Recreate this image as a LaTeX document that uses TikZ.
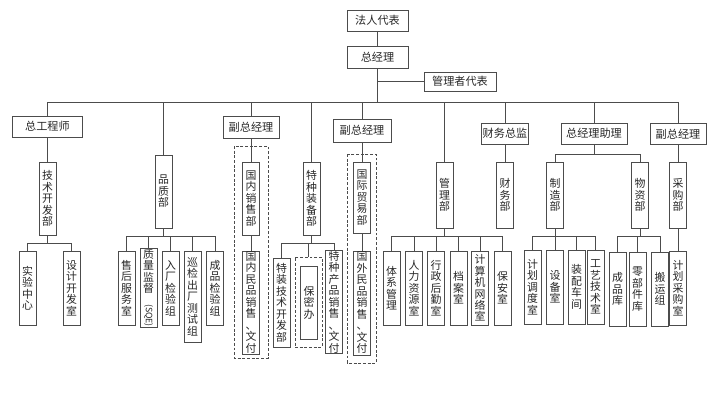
\documentclass[tikz,border=0pt]{standalone}
\usepackage{fontspec}
\usepackage{graphicx}
\newfontfamily\cjk{Noto Sans CJK SC}
\begin{document}
\begin{tikzpicture}[
  x=0.03cm, y=-0.03cm,
  box/.style={draw=black!70, line width=0.7pt, inner sep=1pt, text=black!85},
  hbox/.style={box, font=\cjk\fontsize{9.5}{11}\selectfont},
  vbox/.style={box, align=center, inner sep=0.5pt, minimum width=0.51cm, font=\cjk\fontsize{9.3}{9.8}\selectfont},
  wd/.style={minimum width=#1*0.03cm},
  ht/.style={minimum height=#1*0.03cm},
  grp/.style={draw=black!70, line width=0.7pt, dash pattern=on 2.5pt off 1.5pt},
  ln/.style={draw=black!70, line width=0.7pt}
]
\useasboundingbox (0,0) rectangle (720,406);

\node[hbox, wd=61, ht=21] (frdb) at (377.5,20.5) {法人代表};
\node[hbox, wd=61, ht=22] (zjl) at (377.5,57) {总经理};
\node[hbox, wd=72, ht=19] (glzdb) at (460,81.5) {管理者代表};

\node[hbox, wd=70, ht=21] (zgcs) at (47.5,126.5) {总工程师};
\node[hbox, wd=56, ht=22] (fzjl1) at (251,127) {副总经理};
\node[hbox, wd=58, ht=23] (fzjl2) at (362,130.5) {副总经理};
\node[hbox, wd=44, ht=21] (cwzj) at (505,133.5) {财务总监};
\node[hbox, wd=66, ht=21] (zjlzl) at (594,133.5) {总经理助理};
\node[hbox, wd=56, ht=21] (fzjl3) at (678,134) {副总经理};

\node[vbox, ht=73] (jskfb) at (47.5,198.5) {技\\术\\开\\发\\部};
\node[vbox, ht=73] (pzb) at (163.5,191.5) {品\\质\\部};
\node[vbox, ht=73] (gnxsb) at (251,198.5) {国\\内\\销\\售\\部};
\node[vbox, ht=73] (tzzbb) at (311.5,198.5) {特\\种\\装\\备\\部};
\node[vbox, ht=71] (gjmyb) at (362,197.5) {国\\际\\贸\\易\\部};
\node[vbox, ht=66] (glb) at (444.5,195) {管\\理\\部};
\node[vbox, ht=66] (cwb) at (505,195) {财\\务\\部};
\node[vbox, ht=66] (zzb) at (555,195) {制\\造\\部};
\node[vbox, ht=66] (wzb) at (640,195) {物\\资\\部};
\node[vbox, ht=66] (cgb) at (678,195) {采\\购\\部};

\node[vbox, ht=74] (syzx) at (27.5,288) {实\\验\\中\\心};
\node[vbox, ht=74] (sjkfs) at (71.5,288) {设\\计\\开\\发\\室};
\node[vbox, ht=74] (shfws) at (126.5,288) {售\\后\\服\\务\\室};
\node[vbox, ht=74] (zljd) at (148.5,288) {质\\量\\监\\督\\\rotatebox{-90}{\fontsize{7.5}{8}\selectfont(SQE)}};
\node[vbox, ht=74] (rcjy) at (170.5,288) {入\\厂\\检\\验\\组};
\node[vbox, ht=91] (xjcs) at (192.5,296.5) {巡\\检\\出\\厂\\测\\试\\组};
\node[vbox, ht=74] (cpjy) at (215,288) {成\\品\\检\\验\\组};
\node[vbox, ht=103] (gnmp) at (251,302.5) {国\\内\\民\\品\\销\\售\\、\\文\\付};
\node[vbox, ht=89] (tzjs) at (281.5,302.5) {特\\装\\技\\术\\开\\发\\部};
\node[grp, wd=27, ht=90] (bmbw) at (308.5,302) {};
\node[vbox, ht=73] (bmb) at (309,302.5) {保\\密\\办};
\node[vbox, ht=102] (tzcp) at (334,302) {特\\种\\产\\品\\销\\售\\、\\文\\付};
\node[vbox, ht=104] (gwmp) at (362,303) {国\\外\\民\\品\\销\\售\\、\\文\\付};
\node[vbox, ht=74] (txgl) at (391.5,288) {体\\系\\管\\理};
\node[vbox, ht=74] (rlzy) at (414,288) {人\\力\\资\\源\\室};
\node[vbox, ht=74] (xzhq) at (436,288) {行\\政\\后\\勤\\室};
\node[vbox, ht=74] (das) at (458.5,288) {档\\案\\室};
\node[vbox, ht=74] (jsjwl) at (480,288) {计\\算\\机\\网\\络\\室};
\node[vbox, ht=74] (bas) at (502.5,288) {保\\安\\室};
\node[vbox, ht=74] (jhdd) at (532.5,287) {计\\划\\调\\度\\室};
\node[vbox, ht=74] (sbs) at (555,287) {设\\备\\室};
\node[vbox, ht=74] (zpcj) at (576.5,287) {装\\配\\车\\间};
\node[vbox, ht=74] (gyjs) at (595.5,287) {工\\艺\\技\\术\\室};
\node[vbox, ht=74] (cpk) at (617.5,289) {成\\品\\库};
\node[vbox, ht=74] (lbjk) at (637.5,289) {零\\部\\件\\库};
\node[vbox, ht=74] (byz) at (660,289) {搬\\运\\组};
\node[vbox, ht=74] (jhcg) at (678,288) {计\\划\\采\\购\\室};

\draw[grp] (234,146) rectangle (268,358);
\draw[grp] (347,154) rectangle (376,363);

\coordinate (bus) at (0,102);
\coordinate (zlbus) at (0,154);
\coordinate (b1) at (0,243);
\coordinate (b2) at (0,236);

\draw[ln] (frdb) -- (zjl);
\draw[ln] (zjl) -- (zjl.south |- bus);
\draw[ln] (zjl.south |- glzdb) -- (glzdb);
\draw[ln] (zgcs.north |- bus) -- (fzjl3.north |- bus);
\foreach \n in {zgcs, pzb, fzjl1, tzzbb, fzjl2, glb, cwzj, zjlzl, fzjl3}
  \draw[ln] (\n.north) -- (\n.north |- bus);

\draw[ln] (zgcs) -- (jskfb);
\draw[ln] (fzjl1) -- (gnxsb);
\draw[ln] (fzjl2) -- (gjmyb);
\draw[ln] (cwzj) -- (cwb);
\draw[ln] (fzjl3) -- (cgb);
\draw[ln] (zjlzl) -- (zjlzl.south |- zlbus);
\draw[ln] (zzb.north) -- (zzb.north |- zlbus) -- (wzb.north |- zlbus) -- (wzb.north);

\draw[ln] (jskfb) -- (jskfb.south |- b1);
\draw[ln] (syzx.north) -- (syzx.north |- b1) -- (sjkfs.north |- b1) -- (sjkfs.north);
\draw[ln] (pzb) -- (pzb.south |- b2);
\draw[ln] (shfws.north |- b2) -- (cpjy.north |- b2);
\foreach \n in {shfws, zljd, rcjy, xjcs, cpjy}
  \draw[ln] (\n.north) -- (\n.north |- b2);
\draw[ln] (gnxsb) -- (gnmp);
\draw[ln] (gjmyb) -- (gwmp);
\draw[ln] (tzzbb) -- (tzzbb.south |- b1);
\draw[ln] (tzjs.north |- b1) -- (tzcp.north |- b1);
\foreach \n in {tzjs, bmbw, tzcp}
  \draw[ln] (\n.north) -- (\n.north |- b1);
\draw[ln] (glb) -- (glb.south |- b2);
\draw[ln] (txgl.north |- b2) -- (bas.north |- b2);
\foreach \n in {txgl, rlzy, xzhq, das, jsjwl, bas}
  \draw[ln] (\n.north) -- (\n.north |- b2);
\draw[ln] (zzb) -- (zzb.south |- b2);
\draw[ln] (jhdd.north |- b2) -- (gyjs.north |- b2);
\foreach \n in {jhdd, sbs, zpcj, gyjs}
  \draw[ln] (\n.north) -- (\n.north |- b2);
\draw[ln] (wzb) -- (wzb.south |- b2);
\draw[ln] (cpk.north |- b2) -- (byz.north |- b2);
\foreach \n in {cpk, lbjk, byz}
  \draw[ln] (\n.north) -- (\n.north |- b2);
\draw[ln] (cgb) -- (jhcg);
\end{tikzpicture}
\end{document}
